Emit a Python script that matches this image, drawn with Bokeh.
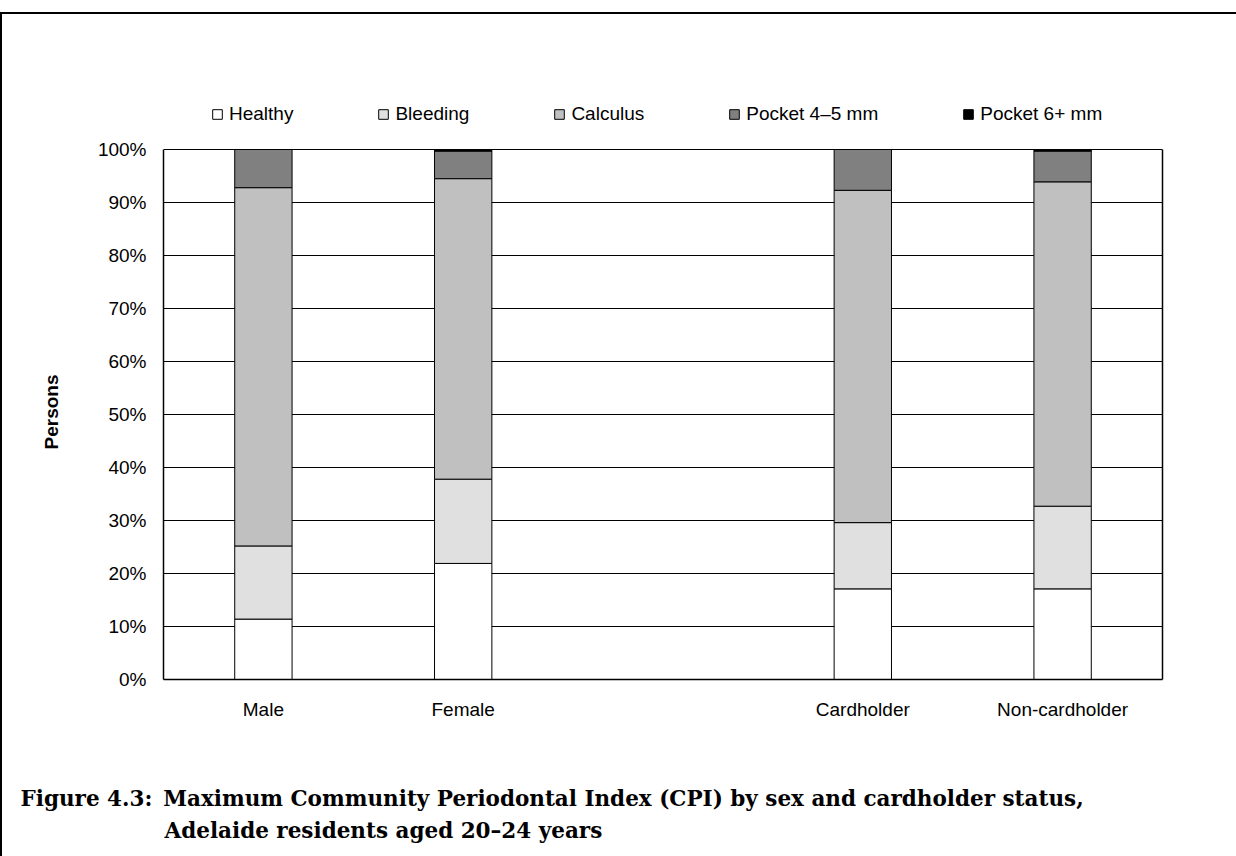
from bokeh.plotting import figure
from bokeh.models import (FactorRange, ColumnDataSource, Legend, LegendItem, Title,
                          FixedTicker, PrintfTickFormatter, LinearAxis)
from bokeh.embed import file_html
from bokeh.resources import INLINE

# Maximum CPI category shares (%), by group
categories = ["Male", "Female", " ", "Cardholder", "Non-cardholder"]
groups = ["Male", "Female", "Cardholder", "Non-cardholder"]
healthy = [11.4, 21.9, 17.1, 17.1]
bleeding = [13.8, 15.9, 12.5, 15.6]
calculus = [67.6, 56.7, 62.7, 61.2]
pocket_4_5 = [7.2, 5.2, 7.7, 5.8]
pocket_6 = [0.0, 0.3, 0.0, 0.3]

series = ["healthy", "bleeding", "calculus", "pocket_4_5", "pocket_6"]
series_labels = ["Healthy", "Bleeding", "Calculus", "Pocket 4\u20135 mm", "Pocket 6+ mm"]
series_colors = ["#FFFFFF", "#E0E0E0", "#C0C0C0", "#808080", "#000000"]
y_ticks = [0, 10, 20, 30, 40, 50, 60, 70, 80, 90, 100]

source = ColumnDataSource(dict(group=groups, healthy=healthy, bleeding=bleeding,
                               calculus=calculus, pocket_4_5=pocket_4_5, pocket_6=pocket_6))

SANS = "Liberation Sans"

# the frame reaches a little above 100% so the legend row sits inside it;
# axis lines are bounded to 0-100 so the boxed plot area stays 0-100%
p = figure(frame_width=999, frame_height=583, title=None,
           x_range=FactorRange(factors=categories, range_padding=0),
           y_range=(0, 110),
           output_backend="svg", toolbar_location=None,
           min_border_left=161, min_border_right=74,
           min_border_top=82, min_border_bottom=177,
           styles={"border-top": "2px solid black", "border-left": "2px solid black",
                   "margin-top": "12px"})

p.background_fill_color = "white"
p.border_fill_color = "white"
p.outline_line_color = None

renderers = p.vbar_stack(series, x="group", width=0.287, source=source,
                         fill_color=series_colors, line_color="black", line_width=1)

# axes
p.xgrid.grid_line_color = None
p.ygrid.grid_line_color = "black"
p.ygrid.grid_line_width = 1
p.yaxis.ticker = FixedTicker(ticks=y_ticks)
p.yaxis.formatter = PrintfTickFormatter(format="%d%%")
p.yaxis.bounds = (0, 100)
for ax in (p.xaxis[0], p.yaxis[0]):
    ax.major_tick_in = 0
    ax.major_tick_out = 0
    ax.minor_tick_in = 0
    ax.minor_tick_out = 0
    ax.axis_line_color = "black"
    ax.axis_line_width = 1.5
    ax.major_label_text_font = SANS
    ax.major_label_text_font_size = "19px"
    ax.major_label_text_color = "black"
p.xaxis.major_label_standoff = 19
p.yaxis.major_label_standoff = 17
# blank x-axis label row: spacing between category names and the caption
p.xaxis.axis_label = "\u2003"
p.xaxis.axis_label_text_font = SANS
p.xaxis.axis_label_text_font_size = "19px"
p.xaxis.axis_label_standoff = 37

# y-axis title, placed along the 0-100% box (offset measured up from the frame bottom)
p.add_layout(Title(text="Persons", text_font=SANS, text_font_size="19px",
                   text_font_style="bold", text_color="black",
                   align="left", offset=230, standoff=66), "left")

# right edge of the plot box
right_edge = LinearAxis(ticker=FixedTicker(ticks=[]), bounds=(0, 100),
                        axis_line_color="black", axis_line_width=1.5,
                        major_tick_in=0, major_tick_out=0,
                        minor_tick_in=0, minor_tick_out=0)
p.add_layout(right_edge, "right")

# legend row above the plot box
items = [LegendItem(label=lab, renderers=[r]) for lab, r in zip(series_labels, renderers)]
legend = Legend(items=items, orientation="horizontal", location=(48, 554),
                padding=0, margin=0, spacing=84, label_standoff=6,
                glyph_width=12, glyph_height=12,
                label_text_font=SANS, label_text_font_size="19px",
                label_text_color="black",
                border_line_color=None, background_fill_alpha=0)
p.add_layout(legend)

# figure caption, two lines under the axis
CAP = dict(text_font="DejaVu Serif", text_font_style="bold", text_font_size="21.5px",
           text_color="black", align="left")
p.add_layout(Title(text="Figure 4.3:\u2002Maximum Community Periodontal Index (CPI) "
                        "by sex and cardholder status,",
                   offset=-143, standoff=0, **CAP), "below")
p.add_layout(Title(text="Adelaide residents aged 20\u201324 years",
                   offset=1, standoff=10, **CAP), "below")

open("out.html", "w").write(file_html(p, INLINE))
